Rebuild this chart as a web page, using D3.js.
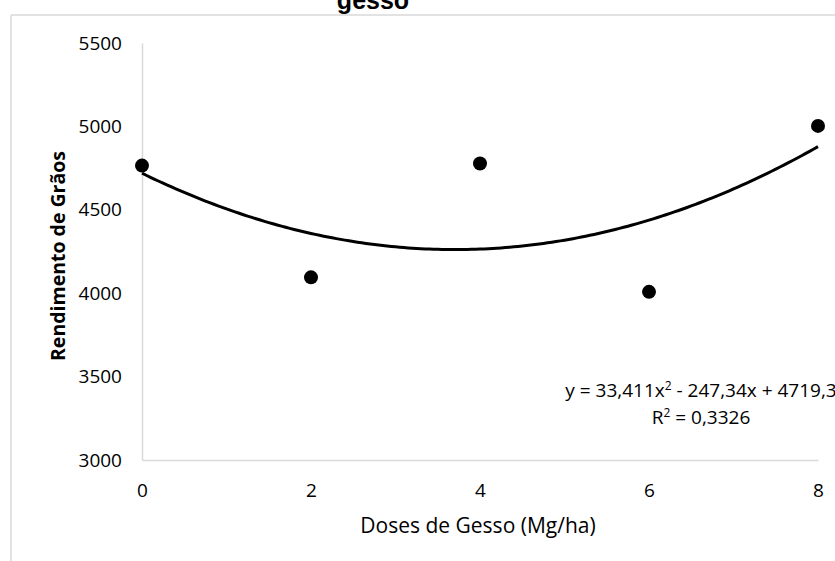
<!DOCTYPE html>
<html>
<head>
<meta charset="utf-8">
<script src="https://cdn.jsdelivr.net/npm/d3@7"></script>
<style>
  html, body { margin: 0; padding: 0; background: #fff; }
  svg { display: block; }
</style>
</head>
<body>
<svg id="chart" width="835" height="561"></svg>
<script>
const doses = [0, 2, 4, 6, 8];
const rendimento = [4765, 4095, 4778, 4008, 5003];
const xTicks = [0, 2, 4, 6, 8];
const yTicks = [3000, 3500, 4000, 4500, 5000, 5500];
const coef = [33.411, -247.34, 4719.3]; // a, b, c of trendline
const titleText = "gesso";
const xTitle = "Doses de Gesso (Mg/ha)";
const yTitle = "Rendimento de Grãos";

const svg = d3.select("#chart");
const x = d3.scaleLinear().domain([0, 8]).range([142, 818]);
const y = d3.scaleLinear().domain([3000, 5500]).range([460, 43]);
const font = "'Open Sans', sans-serif";

// outer frame (partial)
svg.append("line").attr("x1", 11).attr("x2", 835).attr("y1", 15).attr("y2", 15)
  .attr("stroke", "#d9d9d9").attr("stroke-width", 1.5);
svg.append("line").attr("x1", 11).attr("x2", 11).attr("y1", 15).attr("y2", 561)
  .attr("stroke", "#d9d9d9").attr("stroke-width", 1.5);

// title (cropped at the top, as in the reference)
svg.append("text").attr("x", 373).attr("y", 9).attr("text-anchor", "middle")
  .attr("font-family", "'Liberation Sans', Arial, sans-serif").attr("font-weight", "bold")
  .attr("font-size", 25).attr("fill", "#000").text(titleText);

// axes
const xAxis = d3.axisBottom(x).tickValues(xTicks).tickSize(0).tickPadding(0).tickFormat(d3.format("d"));
const gx = svg.append("g").attr("transform", `translate(0,${y(3000)})`).call(xAxis);
gx.select(".domain").attr("stroke", "#d9d9d9").attr("stroke-width", 1.5);
gx.selectAll("text").attr("font-family", font).attr("font-size", 19).attr("font-weight", 500).attr("fill", "#000")
  .attr("dy", null).attr("y", 37);

const yAxis = d3.axisLeft(y).tickValues(yTicks).tickSize(0).tickPadding(20).tickFormat(d3.format("d"));
const gy = svg.append("g").attr("transform", `translate(${x(0)},0)`).call(yAxis);
gy.select(".domain").attr("stroke", "#d9d9d9").attr("stroke-width", 1.5);
gy.selectAll("text").attr("font-family", font).attr("font-size", 19).attr("font-weight", 500).attr("fill", "#000");

// trendline
const fx = d3.range(0, 8.0001, 0.05);
const line = d3.line().x(d => x(d)).y(d => y(coef[0]*d*d + coef[1]*d + coef[2]));
svg.append("path").datum(fx).attr("d", line).attr("fill", "none")
  .attr("stroke", "#000").attr("stroke-width", 3);

// points
svg.append("g").selectAll("circle").data(doses.map((d, i) => [d, rendimento[i]]))
  .join("circle").attr("cx", d => x(d[0])).attr("cy", d => y(d[1])).attr("r", 7).attr("fill", "#000");

// axis titles
svg.append("text").attr("x", 478).attr("y", 533).attr("text-anchor", "middle")
  .attr("font-family", font).attr("font-size", 21).attr("font-weight", 500).attr("fill", "#000").text(xTitle);
svg.append("text").attr("transform", "translate(65,256) rotate(-90)").attr("text-anchor", "middle")
  .attr("font-family", font).attr("font-weight", "bold").attr("font-size", 19.5).attr("fill", "#000").text(yTitle);

// equation label
const eq = svg.append("text").attr("x", 701).attr("y", 397).attr("text-anchor", "middle")
  .attr("font-family", font).attr("font-size", 19).attr("font-weight", 500).attr("fill", "#000");
eq.append("tspan").text("y = 33,411x");
eq.append("tspan").attr("font-size", 12).attr("dy", -7).text("2");
eq.append("tspan").attr("dy", 7).text(" - 247,34x + 4719,3");
const r2 = svg.append("text").attr("x", 701).attr("y", 424).attr("text-anchor", "middle")
  .attr("font-family", font).attr("font-size", 19).attr("font-weight", 500).attr("fill", "#000");
r2.append("tspan").text("R");
r2.append("tspan").attr("font-size", 12).attr("dy", -7).text("2");
r2.append("tspan").attr("dy", 7).text(" = 0,3326");
</script>
</body>
</html>
